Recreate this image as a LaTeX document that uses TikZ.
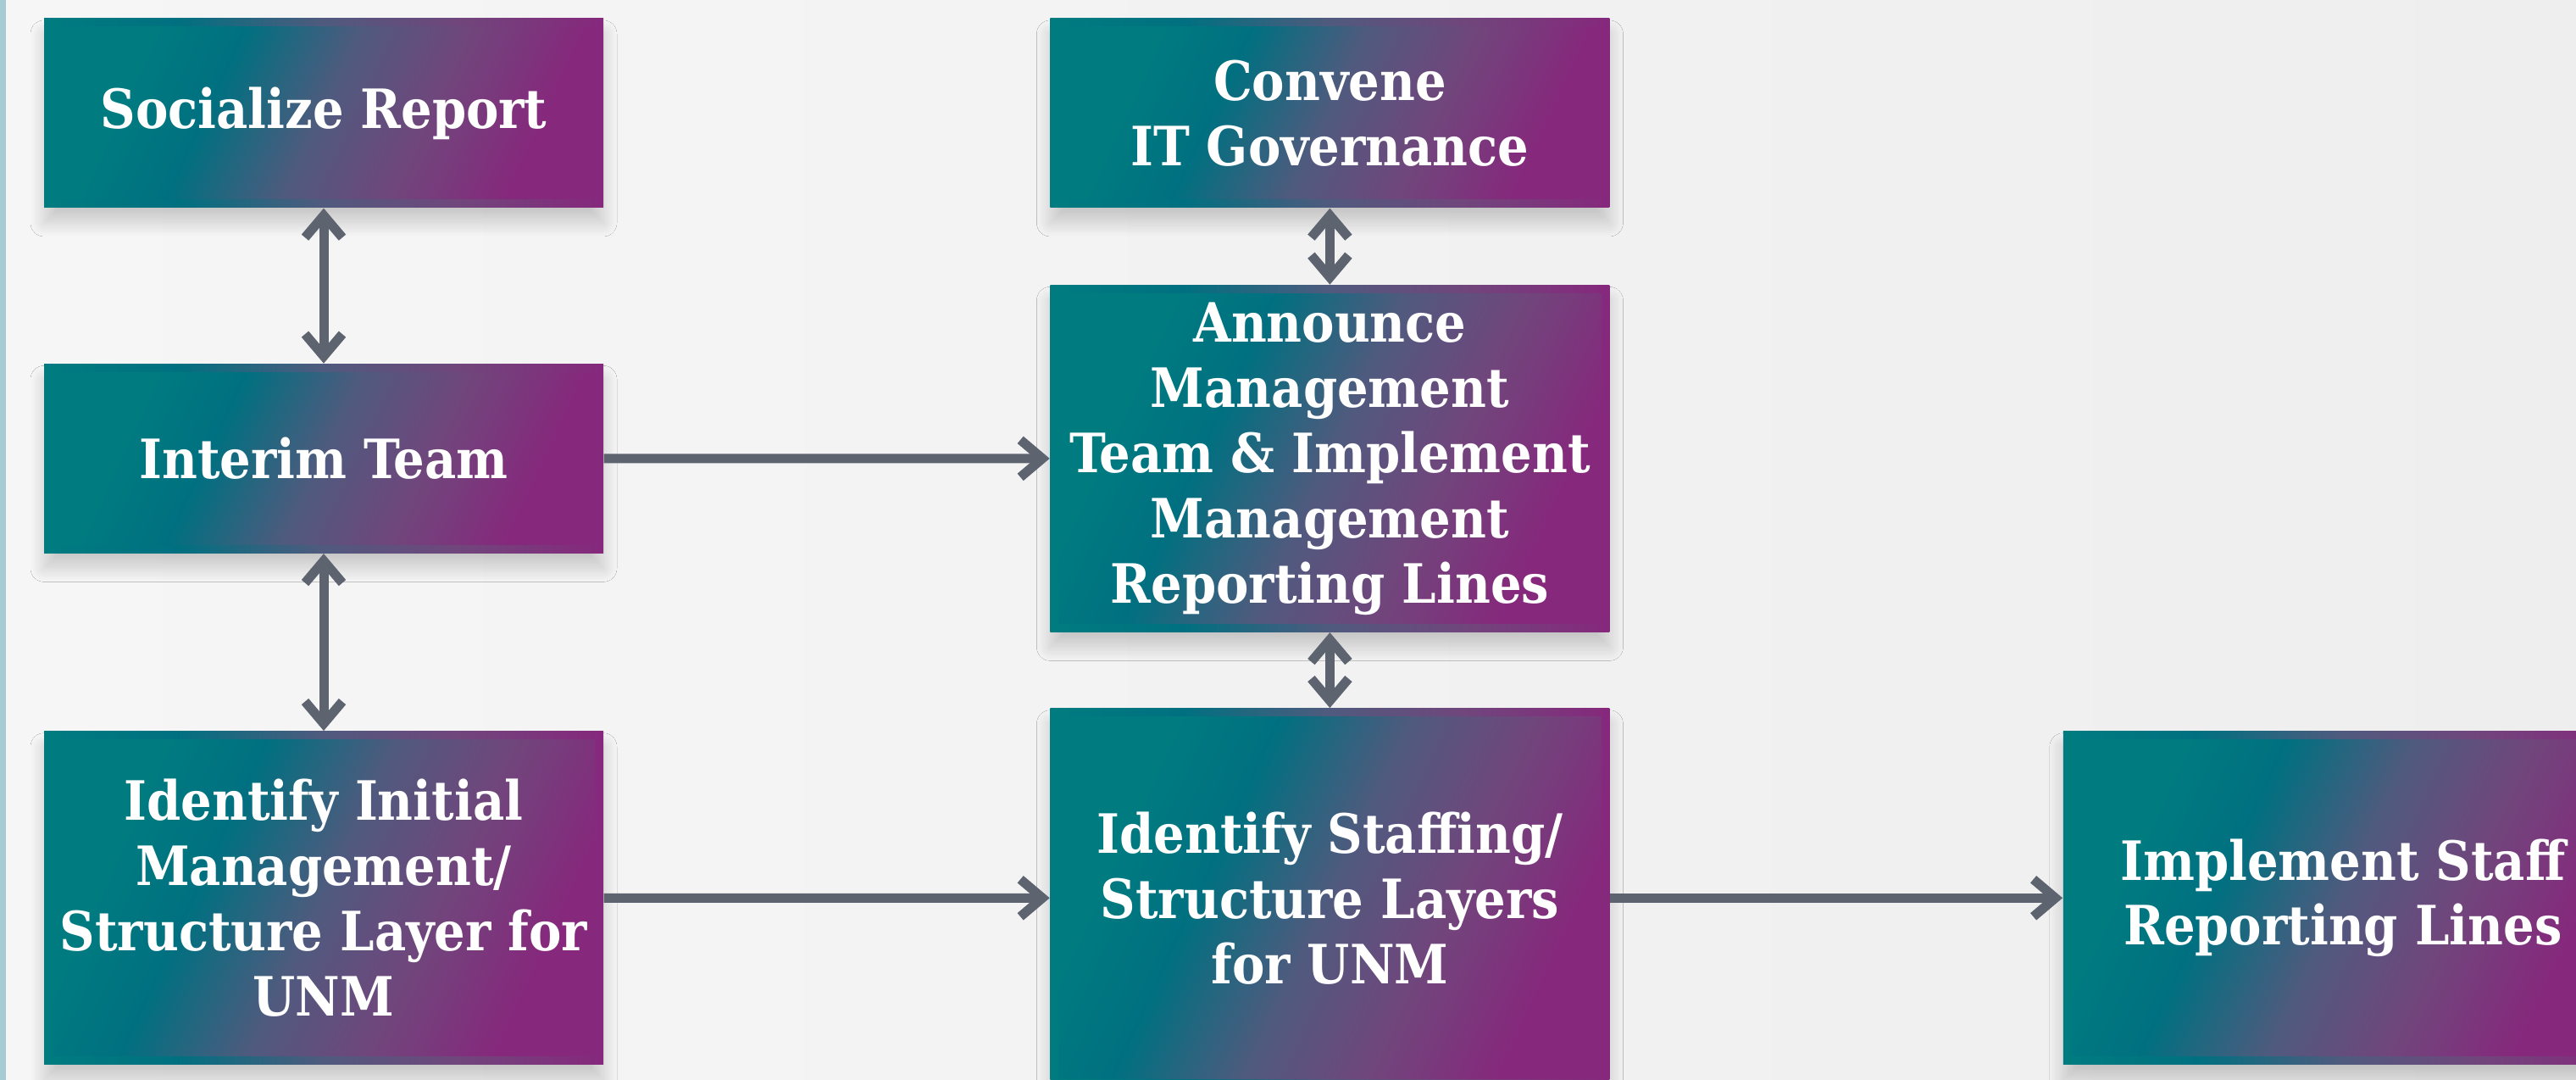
\documentclass[tikz,border=0pt]{standalone}
\usepackage{fontspec}
\setmainfont{DejaVu Serif Condensed}
\usepackage{tikz}
\usetikzlibrary{positioning, arrows.meta, shadows.blur}

\definecolor{unmteal}{RGB}{0,124,128}
\definecolor{unmdeep}{RGB}{0,112,128}
\definecolor{unmslate}{RGB}{80,90,126}
\definecolor{unmplum}{RGB}{112,70,124}
\definecolor{unmpurple}{RGB}{134,40,124}
\definecolor{linkgray}{RGB}{94,99,112}
\definecolor{pagegray}{RGB}{246,246,246}
\definecolor{pagegrayB}{RGB}{238,238,238}
\definecolor{edgeblue}{RGB}{166,203,210}

\pgfdeclarehorizontalshading{boxrim}{100bp}{color(0bp)=(unmteal); color(25bp)=(unmteal); color(37bp)=(unmdeep); color(50bp)=(unmslate); color(62bp)=(unmplum); color(75bp)=(unmpurple); color(100bp)=(unmpurple)}
\pgfdeclarehorizontalshading{boxfill}{100bp}{color(0bp)=(unmteal); color(28bp)=(unmteal); color(38bp)=(unmdeep); color(50bp)=(unmslate); color(61bp)=(unmplum); color(73bp)=(unmpurple); color(100bp)=(unmpurple)}

\tikzset{
  stepbox/.style={shade, shading=boxrim, minimum width=6.6cm, inner sep=0pt,
    align=center, text=white, font=\fontsize{18.2}{21.9}\selectfont\bfseries,
    blur shadow={shadow xshift=0pt, shadow yshift=-1.8mm, shadow blur radius=1.6mm,
      shadow blur extra rounding=0pt, shadow blur steps=20, shadow opacity=18},
    path picture={\shade[shading=boxfill, shading angle=-25]
      ([shift={(1mm,1mm)}]path picture bounding box.south west) rectangle
      ([shift={(-1mm,-1mm)}]path picture bounding box.north east);}},
  link/.style={draw=linkgray, line width=1.1mm}
}

\begin{document}
\begin{tikzpicture}[>={Straight Barb[length=2.6mm,width=4.4mm]}, node distance=1.83cm]
  % page
  \useasboundingbox (0,0) rectangle (30.4,12.74);
  \clip (0,0) rectangle (30.4,12.74);
  \shade[left color=pagegray, right color=pagegrayB] (0,0) rectangle (30.4,12.74);
  \fill[edgeblue] (0,0) rectangle (0.07,12.74);

  % left column
  \node[stepbox, minimum height=2.23cm] (soc) at (3.82,11.405) {Socialize Report};
  \node[stepbox, minimum height=2.23cm, below=of soc] (interim) {Interim Team};
  \node[stepbox, minimum height=3.93cm, below=2.09cm of interim] (initial)
    {Identify Initial\\Management/\\Structure Layer for\\UNM};

  % middle column
  \node[stepbox, minimum height=2.23cm, right=5.26cm of soc] (convene) {Convene\\IT Governance};
  \node[stepbox, minimum height=4.09cm, below=0.9cm of convene] (announce)
    {Announce\\Management\\Team \& Implement\\Management\\Reporting Lines};
  \node[stepbox, minimum height=4.47cm, below=0.89cm of announce] (staffing)
    {Identify Staffing/\\Structure Layers\\for UNM};

  % right column
  \node[stepbox, minimum height=3.93cm, right=5.34cm of staffing] (implement)
    {Implement Staff\\Reporting Lines};

  % connectors
  \path (soc) edge[link, <->] (interim);
  \path (interim) edge[link, <->] (initial);
  \path (convene) edge[link, <->] (announce);
  \path (announce) edge[link, <->] (staffing);
  \path (interim) edge[link, ->] (announce);
  \path (initial) edge[link, ->] (staffing);
  \path (staffing) edge[link, ->] (implement);
\end{tikzpicture}
\end{document}
